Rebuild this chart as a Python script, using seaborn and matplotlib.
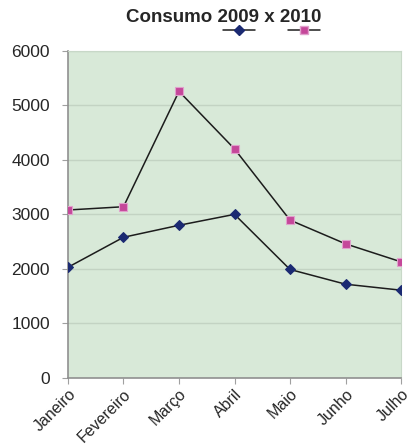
import matplotlib
matplotlib.use("Agg")
import matplotlib.pyplot as plt
import seaborn as sns
import pandas as pd
from matplotlib.lines import Line2D

meses = ["Janeiro", "Fevereiro", "Março", "Abril", "Maio", "Junho", "Julho"]
consumo_2009 = [2030, 2580, 2800, 3000, 1990, 1720, 1610]
consumo_2010 = [3080, 3140, 5255, 4200, 2895, 2460, 2130]
y_ticks = [0, 1000, 2000, 3000, 4000, 5000, 6000]

sns.set_style("white")
plt.rcParams["font.family"] = ["Liberation Sans", "DejaVu Sans"]

fig = plt.figure(figsize=(4.13, 4.48), dpi=100)
ax = fig.add_axes([0.1646, 0.1562, 0.8064, 0.7306])
ax.set_facecolor("#d8e9d8")

df = pd.DataFrame({"mes": meses, "2009": consumo_2009, "2010": consumo_2010})

sns.lineplot(data=df, x="mes", y="2009", ax=ax, sort=False, color="#1c1c1c",
             linewidth=1.1, marker="D", markersize=5,
             markerfacecolor="#1b2a72", markeredgecolor="#1b2a72", zorder=3)
sns.lineplot(data=df, x="mes", y="2010", ax=ax, sort=False, color="#1c1c1c",
             linewidth=1.1, marker="s", markersize=5.5,
             markerfacecolor="#c5479a", markeredgecolor="#e0a0cc",
             markeredgewidth=0.8, zorder=3)

ax.set_xlim(0, len(meses) - 1)
ax.set_ylim(0, 6000)
ax.set_yticks(y_ticks)
ax.set_yticklabels([str(t) for t in y_ticks], fontsize=12.5)
ax.set_xticks(range(len(meses)))
ax.set_xticklabels(meses, rotation=45, ha="right", rotation_mode="anchor", fontsize=11.5)
ax.set_xlabel("")
ax.set_ylabel("")

ax.yaxis.grid(True, color="#c3d3c3", linewidth=1.0)
ax.set_axisbelow(True)
ax.tick_params(axis="y", which="major", length=4, width=0.8, color="#a0a0a0",
               direction="out", left=True, pad=9)
ax.tick_params(axis="x", which="major", length=4, width=0.8, color="#a0a0a0",
               direction="out", bottom=True, pad=2)
for side in ["left", "bottom"]:
    ax.spines[side].set_color("#909090")
    ax.spines[side].set_linewidth(1.2)
for side in ["top", "right"]:
    ax.spines[side].set_color("#c8d8c8")
    ax.spines[side].set_linewidth(0.8)

fig.text(0.542, 0.961, "Consumo 2009 x 2010", ha="center", va="center",
         fontsize=13.5, fontweight="bold")

handles = [
    Line2D([], [], color="#1c1c1c", linewidth=1.1, marker="D", markersize=5,
           markerfacecolor="#1b2a72", markeredgecolor="#1b2a72"),
    Line2D([], [], color="#1c1c1c", linewidth=1.1, marker="s", markersize=5.5,
           markerfacecolor="#c5479a", markeredgecolor="#e0a0cc"),
]
fig.legend(handles, ["", ""], ncol=2, frameon=False, loc="center",
           bbox_to_anchor=(0.658, 0.932), handlelength=2.3, handletextpad=0.0,
           columnspacing=2.4, fontsize=10)

fig.savefig("out.png", dpi=100)
